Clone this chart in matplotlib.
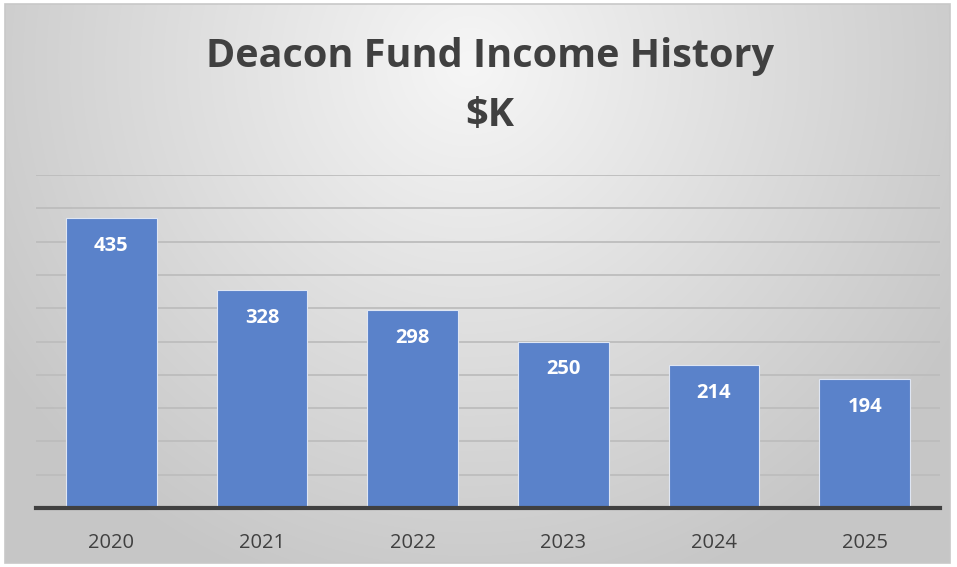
import numpy as np
import matplotlib.pyplot as plt
from matplotlib.patches import Rectangle

# data
years = ['2020', '2021', '2022', '2023', '2024', '2025']
income = [435, 328, 298, 250, 214, 194]

W, H = 957, 567
fig = plt.figure(figsize=(W / 100, H / 100), dpi=100)

# background gradient (light at top centre, grey to the edges)
bg = fig.add_axes([0, 0, 1, 1])
bg.set_xlim(0, W)
bg.set_ylim(H, 0)
bg.axis('off')
xx, yy = np.meshgrid(np.arange(W), np.arange(H))
d = np.sqrt(((xx - 470) / 560.0) ** 2 + ((yy - 60) / 560.0) ** 2)
d = np.clip(d, 0, 1)
val = 0.965 - 0.185 * d
img = np.dstack([val, val, val])
bg.imshow(img, extent=[5, 950, 563, 4], aspect='auto', zorder=0)
bg.add_patch(Rectangle((5, 4), 945, 559, fill=False, edgecolor='#c8c8c8', lw=1.2, zorder=1))

ax = fig.add_axes([36 / W, (H - 508) / H, (940 - 36) / W, (508 - 175) / H])
ax.patch.set_alpha(0)
x = np.arange(len(years))
ax.bar(x, income, width=0.6, color='#5a82ca', edgecolor='#dfe6f3', linewidth=0.8, zorder=3)
ax.set_xlim(-0.5, len(years) - 0.5)
ax.set_ylim(0, 500)
ax.set_yticks(np.arange(50, 501, 50))
ax.yaxis.grid(True, color='#bdbdbd', linewidth=1.3, zorder=0)
ax.tick_params(axis='y', left=False, labelleft=False)
ax.tick_params(axis='x', length=0, pad=18, labelsize=14.5, labelcolor='#404040')
ax.set_xticks(x)
ax.set_xticklabels(years, family=['Open Sans', 'DejaVu Sans'])
for s in ['top', 'right', 'left']:
    ax.spines[s].set_visible(False)
ax.spines['bottom'].set_color('#404040')
ax.spines['bottom'].set_linewidth(3)
ax.spines['bottom'].set_zorder(4)

# value labels inside the bars
for xi, v in zip(x, income):
    ax.annotate(str(v), (xi, v), xytext=(0, -28), textcoords='offset pixels',
                ha='center', va='center', color='white', fontsize=14.5, fontweight='bold',
                family=['Open Sans', 'DejaVu Sans'], zorder=5)

fig.text(490 / W, 1 - 56 / H, 'Deacon Fund Income History', ha='center', va='center',
         fontsize=28.5, fontweight='bold', color='#404040', family=['Open Sans', 'DejaVu Sans'])
fig.text(490 / W, 1 - 116 / H, '$K', ha='center', va='center',
         fontsize=28.5, fontweight='bold', color='#404040', family=['Open Sans', 'DejaVu Sans'])

fig.savefig('out.png', dpi=100)
